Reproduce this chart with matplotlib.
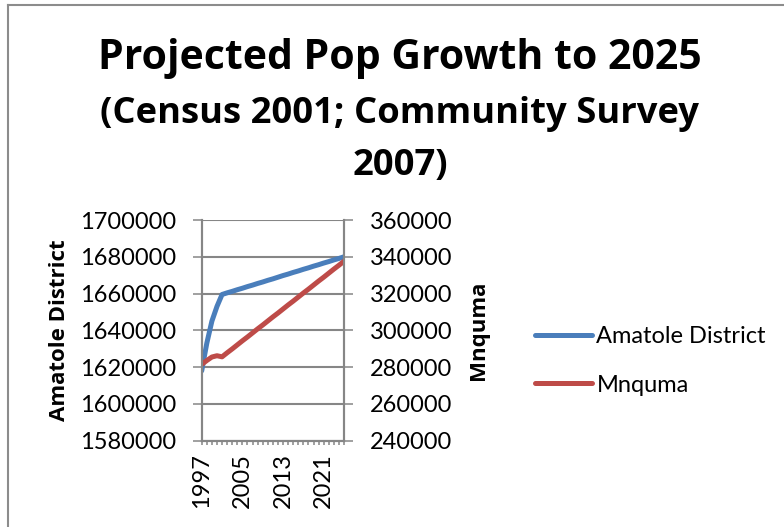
import matplotlib
matplotlib.use("Agg")
import matplotlib.pyplot as plt
from matplotlib.lines import Line2D

years = list(range(1997, 2026))
amatole = [1618000, 1633000, 1645000, 1653000, 1659500,
           1660400, 1661200, 1662100, 1662900, 1663800, 1664600, 1665500,
           1666300, 1667200, 1668000, 1668900, 1669800, 1670600, 1671500,
           1672300, 1673200, 1674000, 1674900, 1675700, 1676600, 1677400,
           1678300, 1679100, 1680000]
mnquma = [281500, 283600, 285500, 286200, 285600,
          287800, 289900, 292100, 294300, 296400, 298600, 300800,
          302900, 305100, 307300, 309400, 311600, 313800, 315900,
          318100, 320300, 322400, 324600, 326800, 328900, 331100,
          333300, 335400, 337600]
left_ticks = [1580000, 1600000, 1620000, 1640000, 1660000, 1680000, 1700000]
right_ticks = [240000, 260000, 280000, 300000, 320000, 340000, 360000]
year_labels = [1997, 2005, 2013, 2021]

title_lines = ["Projected Pop Growth to 2025",
               "(Census 2001; Community Survey",
               "2007)"]

BLUE = "#4a7ebb"
RED = "#be4b48"
GRID = "#868686"
FONT = ["Lato", "DejaVu Sans"]
BOLD_FONT = ["Open Sans", "Lato", "DejaVu Sans"]

plt.rcParams["font.family"] = FONT

fig = plt.figure(figsize=(7.84, 5.27), dpi=100)
ax = fig.add_axes([0.2573, 0.1638, 0.1815, 0.4187])
ax2 = ax.twinx()

ax.plot(years, amatole, color=BLUE, lw=3.6, solid_capstyle="round",
        solid_joinstyle="round", label="Amatole District")
ax2.plot(years, mnquma, color=RED, lw=3.6, solid_capstyle="round",
         solid_joinstyle="round", label="Mnquma")

ax.set_xlim(years[0], years[-1])
ax.set_ylim(left_ticks[0], left_ticks[-1])
ax2.set_ylim(right_ticks[0], right_ticks[-1])

ax.set_yticks(left_ticks)
ax.set_yticklabels([str(v) for v in left_ticks])
ax2.set_yticks(right_ticks)
ax2.set_yticklabels([str(v) for v in right_ticks])

ax.set_xticks(years)
ax.set_xticklabels([str(y) if y in year_labels else "" for y in years],
                   rotation=90, va="top", ha="center")

ax.yaxis.grid(True, color=GRID, lw=1.5)
ax.set_axisbelow(True)

for a in (ax, ax2):
    a.spines["top"].set_visible(False)
    for side in ("left", "right", "bottom"):
        a.spines[side].set_color(GRID)
        a.spines[side].set_linewidth(1.5)

ax.tick_params(axis="y", direction="out", length=6.5, width=1.1, color=GRID,
               pad=12, labelsize=17)
ax2.tick_params(axis="y", direction="out", length=6.5, width=1.1, color=GRID,
                pad=12, labelsize=17)
ax.tick_params(axis="x", direction="out", length=3, width=1.1, color=GRID,
               pad=6, labelsize=17)

ax.set_ylabel("Amatole District", family=BOLD_FONT, fontsize=16,
              fontweight="bold", labelpad=7)
ax2.set_ylabel("Mnquma", family=BOLD_FONT, fontsize=16,
               fontweight="bold", labelpad=11)

# chart title, three centred lines
title_sizes = [29.5, 26.2, 26.2]
title_base = [69, 123, 175.5]
for text, size, base in zip(title_lines, title_sizes, title_base):
    fig.text(400 / 784, 1 - base / 527, text, family=BOLD_FONT,
             fontweight="bold", fontsize=size, ha="center", va="baseline")

handles = [ax.get_lines()[0], ax2.get_lines()[0]]
fig.legend(handles, [h.get_label() for h in handles], loc="center left",
           bbox_to_anchor=(535 / 784, 1 - 361 / 527), frameon=False,
           fontsize=17, handlelength=2.4, handletextpad=0.2,
           labelspacing=1.15, borderpad=0, borderaxespad=0)

# outer chart frame (left and top edges)
fig.add_artist(Line2D([7.5 / 784, 7.5 / 784], [0, 1 - 4.5 / 527],
                      transform=fig.transFigure, color="#8c8c8c", lw=1.5))
fig.add_artist(Line2D([7.5 / 784, 1], [1 - 4.5 / 527, 1 - 4.5 / 527],
                      transform=fig.transFigure, color="#8c8c8c", lw=1.5))

fig.savefig("out.png", dpi=100)
